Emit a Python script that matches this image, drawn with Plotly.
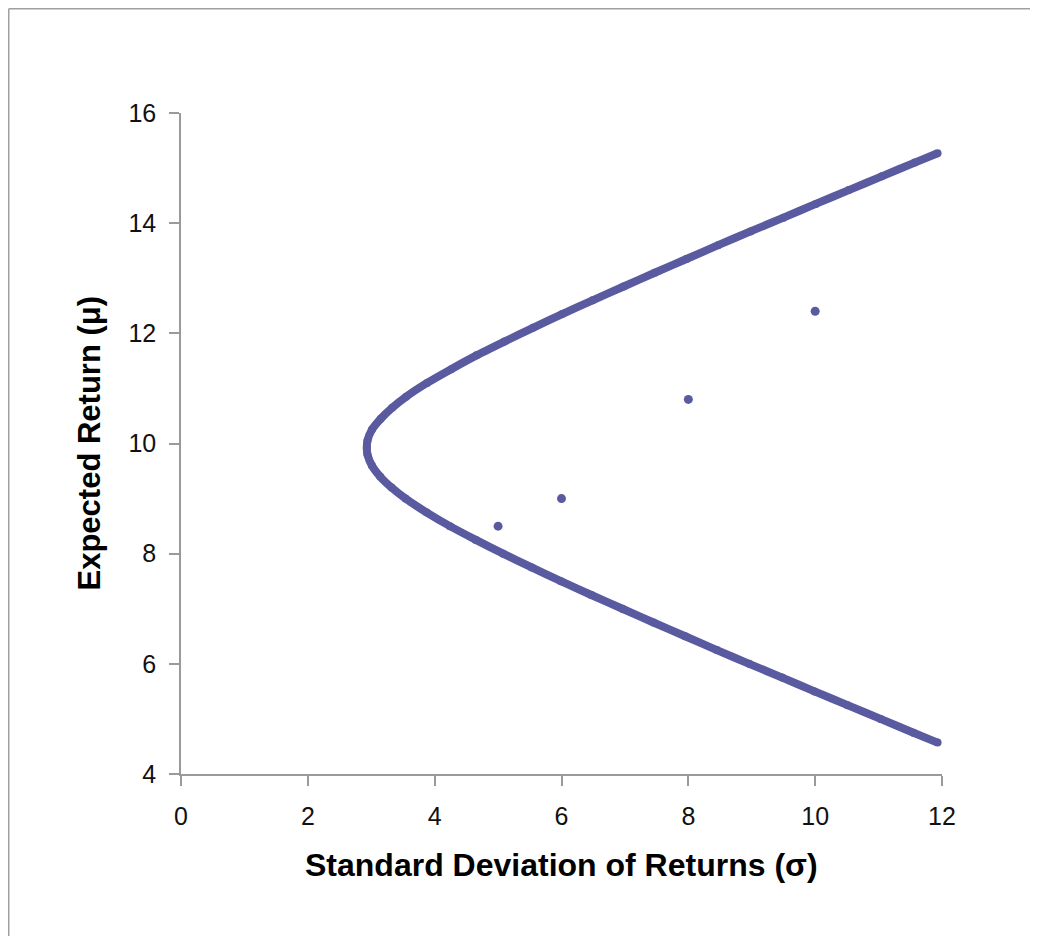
import plotly.graph_objects as go

# Efficient frontier, ordered from lower end to upper end
frontier_sigma = [11.93, 11.55, 11.03, 10.51, 9.99, 9.48, 8.96, 8.45, 7.95, 7.45, 6.96,
                  6.47, 5.99, 5.53, 5.08, 4.65, 4.24, 3.87, 3.54, 3.32, 3.14, 3.01, 2.94,
                  2.93, 2.94, 3.01, 3.15, 3.33, 3.55, 3.88, 4.26, 4.66, 5.10, 5.55, 6.01,
                  6.49, 6.98, 7.47, 7.97, 8.47, 8.98, 9.50, 10.01, 10.53, 11.05, 11.57, 11.93]
frontier_mu = [4.57, 4.75, 5.0, 5.25, 5.5, 5.75, 6.0, 6.25, 6.5, 6.75, 7.0,
               7.25, 7.5, 7.75, 8.0, 8.25, 8.5, 8.75, 9.0, 9.2, 9.4, 9.6, 9.8,
               9.92, 10.05, 10.25, 10.45, 10.65, 10.85, 11.1, 11.35, 11.6, 11.85, 12.1, 12.35,
               12.6, 12.85, 13.1, 13.35, 13.6, 13.85, 14.1, 14.35, 14.6, 14.85, 15.1, 15.27]

# Individual assets
asset_sigma = [5, 6, 8, 10]
asset_mu = [8.5, 9.0, 10.8, 12.4]

x_ticks = [0, 2, 4, 6, 8, 10, 12]
y_ticks = [4, 6, 8, 10, 12, 14, 16]

color = "#5A5AA0"
font_family = "Liberation Sans, Arial, sans-serif"

fig = go.Figure()
fig.add_trace(go.Scatter(
    x=frontier_sigma, y=frontier_mu, mode="lines+markers",
    line=dict(color=color, width=8, shape="spline", smoothing=0.6),
    marker=dict(color=color, size=8),
    showlegend=False, hoverinfo="x+y"))
fig.add_trace(go.Scatter(
    x=asset_sigma, y=asset_mu, mode="markers",
    marker=dict(color=color, size=9),
    showlegend=False))

axis_common = dict(
    showgrid=False, zeroline=False, showline=True, linecolor="#9a9a9a", linewidth=1.5,
    ticks="outside", ticklen=10, tickwidth=1.5, tickcolor="#9a9a9a",
    tickfont=dict(family=font_family, size=25, color="#111111"),
)

W, H = 1022, 928
L, R, T, B = 173, 88, 105, 162

fig.update_layout(
    width=W, height=H,
    margin=dict(l=L, r=R, t=T, b=B),
    paper_bgcolor="white", plot_bgcolor="white",
    xaxis=dict(range=[0, 12], tickvals=x_ticks, ticklabelstandoff=9, **axis_common),
    yaxis=dict(range=[4, 16], tickvals=y_ticks, ticklabelstandoff=8, **axis_common),
    font=dict(family=font_family),
)

pw = W - L - R
ph = H - T - B

fig.add_annotation(
    x=0.5, y=-(857 - (T + ph)) / ph,
    xref="paper", yref="paper", xanchor="center", yanchor="middle",
    text="<b>Standard Deviation of Returns (σ)</b>", showarrow=False,
    font=dict(family=font_family, size=32, color="#000000"))
fig.add_annotation(
    x=(81 - L) / pw, y=0.5, xref="paper", yref="paper", xanchor="center", yanchor="middle",
    text="<b>Expected Return (μ)</b>", showarrow=False, textangle=-90,
    font=dict(family=font_family, size=31, color="#000000"))

# chart-area border (left and top edges visible)
x_left = (0.75 - L) / pw
y_top = (T + ph - 0.75) / ph
fig.add_shape(type="line", xref="paper", yref="paper",
              x0=x_left, x1=x_left, y0=-(H - T - ph) / ph, y1=y_top,
              line=dict(color="#a0a0a0", width=1.5), layer="below")
fig.add_shape(type="line", xref="paper", yref="paper",
              x0=x_left, x1=(W - L) / pw, y0=y_top, y1=y_top,
              line=dict(color="#a0a0a0", width=1.5), layer="below")

fig.write_html("out.html")
